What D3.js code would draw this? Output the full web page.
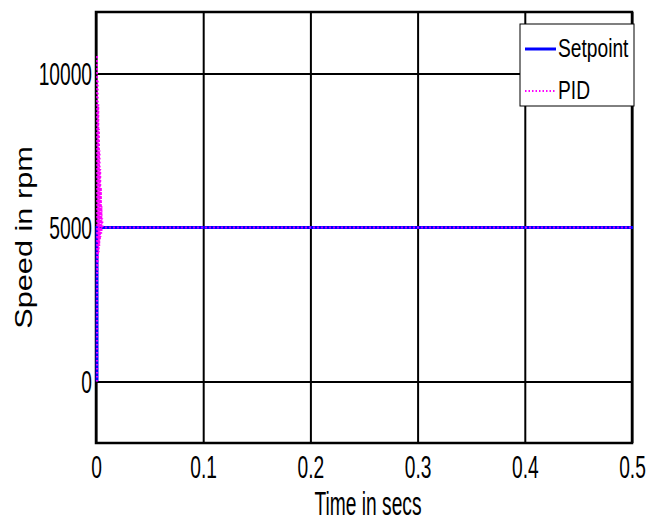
<!DOCTYPE html>
<html>
<head>
<meta charset="utf-8">
<script src="https://cdn.jsdelivr.net/npm/d3@7"></script>
<style>
  body { margin: 0; background: #fff; }
  svg { display: block; }
  .narrow { font-family: "Liberation Sans", Arial, sans-serif; }
</style>
</head>
<body>
<svg id="chart" width="663" height="523"></svg>
<script>
// ---- data ----
const xTicks = [0, 0.1, 0.2, 0.3, 0.4, 0.5];
const xTickLabels = ["0", "0.1", "0.2", "0.3", "0.4", "0.5"];
const yTicks = [0, 5000, 10000];
const yTickLabels = ["0", "5000", "10000"];
const setpointTime = [0, 0, 0.5];
const setpointSpeed = [0, 5000, 5000];
const pidTime = [0, 0.0001, 0.0004, 0.0007, 0.0010, 0.0013, 0.0016, 0.0019, 0.0022, 0.0025, 0.0028, 0.0031, 0.0034, 0.0037, 0.0040, 0.0043, 0.0046, 0.0049, 0.0053, 0.0060, 0.5];
const pidSpeed = [0, 10600, 3500, 9800, 3900, 9000, 4200, 8200, 4400, 7500, 4600, 6900, 4700, 6300, 4800, 5700, 4900, 5300, 5050, 5000, 5000];
const seriesNames = ["Setpoint", "PID"];
const xLabel = "Time in secs";
const yLabel = "Speed in rpm";

// ---- layout ----
const L = 96, R = 632, T = 12, B = 443;
const svg = d3.select("#chart");
const x = d3.scaleLinear().domain([0, 0.5]).range([L, R]);
const y = d3.scaleLinear().domain([-2000, 12000]).range([B, T]);

// grid (via axes)
const gx = svg.append("g").attr("transform", `translate(0,${B})`)
  .call(d3.axisBottom(x).tickValues(xTicks).tickSize(-(B - T)).tickFormat((d, i) => xTickLabels[i]));
gx.select(".domain").remove();
gx.selectAll(".tick line").attr("stroke", "#000").attr("stroke-width", 2);
gx.selectAll(".tick text")
  .attr("class", "narrow").attr("y", 0).attr("dy", 0)
  .attr("font-size", 24).attr("fill", "#000")
  .attr("transform", "translate(0,35) scale(0.8,1.33)");

const gy = svg.append("g").attr("transform", `translate(${L},0)`)
  .call(d3.axisLeft(y).tickValues(yTicks).tickSize(-(R - L)).tickFormat((d, i) => yTickLabels[i]));
gy.select(".domain").remove();
gy.selectAll(".tick line").attr("stroke", "#000").attr("stroke-width", 2);
gy.selectAll(".tick text")
  .attr("class", "narrow").attr("x", 0).attr("dy", 0)
  .attr("font-size", 24).attr("fill", "#000").attr("text-anchor", "end")
  .attr("transform", "translate(-4,11) scale(0.8,1.33)");

// border (drawn under data, as in the reference)
svg.append("rect").attr("x", L).attr("y", T).attr("width", R - L).attr("height", B - T)
  .attr("fill", "none").attr("stroke", "#000").attr("stroke-width", 2.5);

// lines
const line = d3.line().x(d => x(d[0])).y(d => y(d[1]));
const spData = setpointTime.map((t, i) => [t, setpointSpeed[i]]);
const pidData = pidTime.map((t, i) => [t, pidSpeed[i]]);

svg.append("path").datum(spData).attr("d", line)
  .attr("fill", "none").attr("stroke", "#0000ff").attr("stroke-width", 3)
  .attr("transform", "translate(1,0)");
svg.append("path").datum(pidData).attr("d", line)
  .attr("fill", "none").attr("stroke", "#ff00ff").attr("stroke-width", 1.8)
  .attr("stroke-dasharray", "1.5,2.5")
  .attr("transform", "translate(1,0)");

// axis labels
svg.append("text").attr("class", "narrow")
  .attr("transform", `translate(${(L + R) / 2 + 4},515) scale(0.8,1.4)`)
  .attr("text-anchor", "middle").attr("font-size", 24).attr("fill", "#000")
  .text(xLabel);
svg.append("text")
  .attr("transform", `translate(32,${(T + B) / 2 + 10}) rotate(-90) scale(1.28,1)`)
  .attr("text-anchor", "middle").attr("font-size", 24)
  .attr("font-family", "'Liberation Sans', Arial, sans-serif").attr("fill", "#000")
  .text(yLabel);

// legend
const lg = svg.append("g");
lg.append("rect").attr("x", 520).attr("y", 24).attr("width", R - 520 + 2).attr("height", 82)
  .attr("fill", "#fff").attr("stroke", "#000").attr("stroke-width", 1);
const legendColors = ["#0000ff", "#ff00ff"];
const legendY = [49, 91];
seriesNames.forEach((name, i) => {
  const by = legendY[i] + 8;
  lg.append("line").attr("x1", 525).attr("x2", 556).attr("y1", legendY[i]).attr("y2", legendY[i])
    .attr("stroke", legendColors[i])
    .attr("stroke-width", i === 0 ? 3 : 2)
    .attr("stroke-dasharray", i === 0 ? null : "1.5,2");
  lg.append("text").attr("class", "narrow").attr("x", 0).attr("y", 0)
    .attr("font-size", 24).attr("fill", "#000")
    .attr("transform", `translate(558,${by}) scale(0.8,1.1)`)
    .text(name);
});
</script>
</body>
</html>
